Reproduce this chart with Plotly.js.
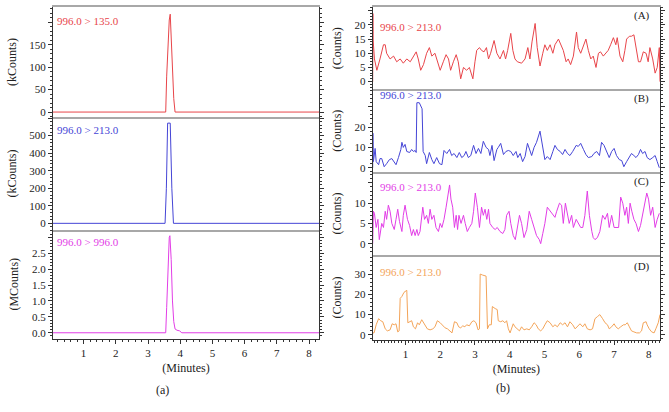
<!DOCTYPE html>
<html><head><meta charset="utf-8">
<script src="https://cdn.plot.ly/plotly-3.0.1.min.js"></script>
<style>html,body{margin:0;padding:0;background:#fff}#chart{width:669px;height:412px}</style>
</head><body><div id="chart"></div>
<script>
// ---- (a) left column: peaks ----
const tA1 = [0.05, 3.55, 3.58, 3.62, 3.66, 3.69, 3.72, 3.76, 3.80, 3.84, 8.31];
const yA1 = [0, 0, 80, 160, 205, 218, 170, 90, 30, 0, 0];           // kCounts 996.0 > 135.0
const tA2 = [0.05, 3.53, 3.57, 3.59, 3.61, 3.69, 3.71, 3.74, 3.79, 8.31];
const yA2 = [0, 0, 200, 380, 571, 571, 380, 200, 0, 0];             // kCounts 996.0 > 213.0
const tA3 = [0.05, 3.55, 3.58, 3.62, 3.66, 3.68, 3.72, 3.76, 3.80, 3.84, 3.90, 3.98, 4.05, 8.31];
const yA3 = [0, 0, 0.8, 2.2, 3.0, 3.05, 2.3, 1.0, 0.35, 0.12, 0.08, 0.06, 0, 0]; // MCounts 996.0 > 996.0

// ---- (b) right column: noise traces ----
const tBA = [0.06,0.065,0.07,0.11,0.18,0.27,0.37,0.42,0.46,0.56,0.66,0.75,0.85,0.94,1.04,1.14,1.23,1.31,1.37,1.44,1.52,1.61,1.69,1.76,1.85,1.92,2.00,2.09,2.17,2.24,2.30,2.38,2.46,2.52,2.59,2.67,2.76,2.84,2.94,3.00,3.05,3.13,3.19,3.26,3.33,3.39,3.45,3.55,3.63,3.72,3.82,3.88,3.94,4.03,4.09,4.15,4.22,4.34,4.44,4.52,4.58,4.64,4.73,4.79,4.87,4.95,5.01,5.08,5.16,5.24,5.30,5.40,5.46,5.54,5.62,5.68,5.75,5.83,5.92,5.97,6.04,6.12,6.19,6.26,6.33,6.40,6.48,6.55,6.61,6.69,6.76,6.83,6.90,6.98,7.05,7.09,7.17,7.25,7.31,7.36,7.44,7.50,7.57,7.63,7.70,7.76,7.84,7.92,7.98,8.03,8.11,8.18,8.24,8.30,8.32];
const yBA = [0,24,15,8,4,8,13,13,10,8,9,7,8,6.5,8,7,9,10.5,8,4,6,10,12,9,10,7,4,7,9.5,8,4,7,9.5,7,1,5,4,5,1,7,11,12,11,10.5,12,8,10,14.5,10,8,11,8,11,17,11,8,7,6.5,8,12,8,14,20.5,12,5.5,10,13,11,13,10,13,15,13,11,7,8,6,9,17.5,12,10,13,15,11,8,9,5,10,10.5,9,10,11,13,15.5,13,15.5,9,7,11,15,16,16,16.5,12,7,7,10.5,10,7,12,8,3,5,12,0];

const tBB = [0.06,0.065,0.08,0.13,0.16,0.23,0.27,0.32,0.39,0.46,0.54,0.61,0.68,0.73,0.80,0.87,0.90,0.94,0.99,1.04,1.12,1.18,1.23,1.28,1.31,1.33,1.40,1.44,1.48,1.51,1.57,1.61,1.69,1.76,1.82,1.90,1.98,2.05,2.11,2.19,2.27,2.33,2.40,2.48,2.55,2.62,2.69,2.74,2.81,2.88,2.96,3.03,3.10,3.17,3.24,3.32,3.39,3.43,3.49,3.55,3.63,3.67,3.74,3.82,3.89,3.96,4.03,4.10,4.18,4.23,4.30,4.37,4.44,4.51,4.58,4.63,4.70,4.77,4.87,4.95,5.01,5.08,5.16,5.24,5.30,5.37,5.45,5.52,5.59,5.66,5.73,5.81,5.91,5.97,6.04,6.12,6.19,6.26,6.36,6.42,6.50,6.58,6.64,6.71,6.79,6.86,6.93,7.00,7.07,7.15,7.22,7.28,7.36,7.44,7.50,7.57,7.63,7.70,7.76,7.82,7.89,7.95,8.03,8.11,8.18,8.24,8.30];
const yBB = [0,17,3,9.5,3,1.5,4.5,4.5,0.5,2,4,4.5,3,1.5,5,9,12.5,10,11.5,8,7.5,9,8,8.5,7.5,32,32,30,29,8,6,2,7.5,4,2,5,2,1.5,8.5,7,9,6,7,5,7.5,5,6,8,5,6,11,7,9.5,7,13,10,9,6,11,3.5,9,10,12,6.5,8,8.5,8,6,8,5,7,3,5.5,12,8,6,10,12.5,18,9,4,5.5,4,8,11,9,8,6.5,9,7,6,8,11,10.5,12,9,6.5,5,5.5,7,8,6,12.5,11,8,5,8,9.5,6,4,3.5,0.5,3,5,7,6,5,6.5,9,7,8,5,4,5,6,3,0];

const tBC = [0.06,0.08,0.11,0.16,0.21,0.25,0.32,0.37,0.42,0.46,0.51,0.56,0.61,0.68,0.73,0.78,0.83,0.90,0.94,0.99,1.06,1.12,1.18,1.23,1.28,1.33,1.37,1.42,1.50,1.55,1.61,1.66,1.71,1.76,1.82,1.88,1.95,2.00,2.05,2.11,2.17,2.21,2.27,2.31,2.36,2.41,2.46,2.50,2.54,2.60,2.67,2.72,2.78,2.84,2.91,2.96,3.01,3.07,3.13,3.19,3.24,3.29,3.34,3.39,3.43,3.51,3.58,3.64,3.72,3.80,3.86,3.91,3.98,4.03,4.10,4.16,4.22,4.28,4.34,4.41,4.49,4.56,4.63,4.70,4.77,4.85,4.89,4.95,5.01,5.08,5.16,5.24,5.30,5.35,5.43,5.49,5.54,5.60,5.66,5.71,5.78,5.83,5.91,5.97,6.04,6.10,6.16,6.23,6.29,6.36,6.40,6.45,6.52,6.59,6.67,6.74,6.81,6.86,6.93,7.00,7.07,7.13,7.19,7.25,7.31,7.36,7.41,7.46,7.51,7.57,7.63,7.70,7.76,7.84,7.90,7.94,7.99,8.05,8.11,8.18,8.24,8.30];
const yBC = [0,8,7.5,4,6,1,5,4,8,6,9.5,8,5,3.5,6,8.5,5.5,3,7,9.5,6,4.5,2,3.5,2,3.5,2,3,9,6,7,5,8.5,6,7,4,3,5,4,6,9,11,14.5,11,9,4,7,3.5,7,5,7,5,3,4,5,8,12.5,9,4,9,7,8.5,6,8.5,5,4,3.5,4,3,2.5,3.5,7,8,5,2,1,4,7,5,1.5,3.5,8,6,4,2,1,0,2.5,5,9,8,7,6.5,8,10,9.5,5,10,7,5,7,4,6,5,4,4,7,13,7,3,1.5,1,1.5,3,7,6,7.5,4,7,4,4,4,11.5,10,7,9,5,10,8,6,5,3,4.5,8,10,12.5,11,7,9,4,6,7.5];

const tBD = [0.06,0.10,0.16,0.23,0.29,0.35,0.42,0.48,0.56,0.62,0.68,0.73,0.78,0.82,0.85,0.90,0.96,1.04,1.07,1.14,1.18,1.23,1.29,1.35,1.40,1.47,1.52,1.57,1.63,1.71,1.79,1.85,1.92,2.00,2.07,2.14,2.21,2.28,2.34,2.41,2.48,2.53,2.59,2.65,2.71,2.76,2.84,2.91,2.97,3.03,3.09,3.13,3.15,3.22,3.29,3.32,3.36,3.41,3.47,3.50,3.58,3.64,3.67,3.74,3.80,3.86,3.91,3.96,4.01,4.06,4.10,4.15,4.22,4.28,4.34,4.41,4.49,4.56,4.63,4.70,4.76,4.82,4.89,4.95,5.01,5.08,5.16,5.24,5.30,5.37,5.45,5.52,5.59,5.66,5.73,5.81,5.88,5.94,6.02,6.10,6.16,6.23,6.31,6.38,6.45,6.52,6.59,6.67,6.74,6.81,6.86,6.93,7.00,7.05,7.12,7.19,7.27,7.32,7.38,7.44,7.50,7.57,7.65,7.73,7.79,7.84,7.92,7.95,8.01,8.08,8.15,8.20,8.27,8.32];
const yBD = [1,1,5,8,7,6.5,3,2,2.5,5.5,5,5.5,1.5,2,18,19,21,22,6,6.5,7,4,3,6,5,7.5,6,5,3,2.5,3,4,7,6,4.5,3.5,3,2,1,6.5,6,4,3.5,4.5,4,5,4.5,6.5,7,6,2.5,3,30,29.5,29,29,3,5,5,14,13,12.5,7,6.5,7,6,7,3,1,3,5.5,4,3,2,4,2.5,3,2.5,4,6,5,3,2,3,5,7,6,4,5,4,6,5,6,4,6.5,5,3,4,5.5,4,5.5,3,2.5,3,8,9,10,8,6,5,3,4,5.5,4,3,4,5,5,6,4,2,1.5,1,1,2,6,6.5,5,3,1.5,1,3,6,10];

const labelsA = ['996.0 > 135.0', '996.0 > 213.0', '996.0 > 996.0'];
const labelsB = ['996.0 > 213.0', '996.0 > 213.0', '996.0 > 213.0', '996.0 > 213.0'];
const panelTags = ['(A)', '(B)', '(C)', '(D)'];
const yTitlesA = ['(kCounts)', '(kCounts)', '(MCounts)'];
const xTitle = '(Minutes)';

const cRed = '#e8454a', cBlue = '#4545d6', cMag = '#e23de6', cOra = '#f3a459';
const FONT = 'Liberation Serif, Times New Roman, serif';

const traces = [
  {x:tA1, y:yA1, xaxis:'x', yaxis:'y', line:{color:cRed}},
  {x:tA2, y:yA2, xaxis:'x2', yaxis:'y2', line:{color:cBlue}},
  {x:tA3, y:yA3, xaxis:'x3', yaxis:'y3', line:{color:cMag}},
  {x:tBA, y:yBA, xaxis:'x4', yaxis:'y4', line:{color:cRed}},
  {x:tBB, y:yBB, xaxis:'x5', yaxis:'y5', line:{color:cBlue}},
  {x:tBC, y:yBC, xaxis:'x6', yaxis:'y6', line:{color:cMag}},
  {x:tBD, y:yBD, xaxis:'x7', yaxis:'y7', line:{color:cOra}}
].map(t => Object.assign(t, {type:'scatter', mode:'lines', hoverinfo:'skip', showlegend:false, line:Object.assign(t.line,{width:1})}));

const xdomL = [53/669, 319/669], xdomR = [372.7/669, 660/669];
const f = px => 1 - px/412;
const ydoms = [[f(117), f(7)], [f(230), f(117)], [f(338.5), f(230)],
               [f(89.3), f(7.3)], [f(172), f(89.3)], [f(255), f(172)], [f(340), f(255)]];

function xax(i, dom, range, kind, minorD) {
  const a = {domain:dom, range:range, anchor:'y'+(i===1?'':i), showgrid:false, zeroline:false,
    showline:true, fixedrange:true,
    tickfont:{family:FONT, size:11, color:'#222'}};
  if (kind !== 'bottom') {
    Object.assign(a, {linecolor:'#a8a8a8', linewidth:2, mirror:(kind === 'top'), ticks:'', showticklabels:false});
  } else {
    Object.assign(a, {linecolor:'#333', linewidth:1, mirror:false, ticks:'outside', ticklen:4, tickcolor:'#333',
      tickmode:'linear', tick0:0, dtick:1,
      minor:{ticks:'outside', ticklen:2, dtick:minorD, tick0:0, tickcolor:'#333'},
      title:{text:xTitle, font:{family:FONT, size:12, color:'#222'}, standoff:5}});
  }
  return a;
}
function yax(i, dom, range, dtick, alias, minorD, title, fmt) {
  const a = {domain:dom, range:range, anchor:'x'+(i===1?'':i), showgrid:false, zeroline:false,
    showline:true, linecolor:'#333', linewidth:1, mirror:'ticks', ticks:'outside', ticklen:4, tickcolor:'#333',
    tickmode:'linear', tick0:0, dtick:dtick, labelalias:alias, fixedrange:true,
    minor:{ticks:'outside', ticklen:2, dtick:minorD, tick0:0, tickcolor:'#333'},
    tickfont:{family:FONT, size:11, color:'#222'}};
  if (fmt) a.tickformat = fmt;
  if (title) a.title = {text:title, font:{family:FONT, size:12, color:'#222'}, standoff:10};
  return a;
}

const layout = {
  width:669, height:412, margin:{l:0, r:0, t:0, b:0}, paper_bgcolor:'#fff', plot_bgcolor:'#fff',
  font:{family:FONT, size:11, color:'#222'},
  xaxis: xax(1, xdomL, [0.05, 8.31], 'top'),
  xaxis2: xax(2, xdomL, [0.05, 8.31], 'mid'),
  xaxis3: xax(3, xdomL, [0.05, 8.31], 'bottom', 0.2),
  xaxis4: xax(4, xdomR, [0.06, 8.32], 'top'),
  xaxis5: xax(5, xdomR, [0.06, 8.32], 'mid'),
  xaxis6: xax(6, xdomR, [0.06, 8.32], 'mid'),
  xaxis7: xax(7, xdomR, [0.06, 8.32], 'bottom', 0.1),
  yaxis: yax(1, ydoms[0], [-11, 234], 50, {'200':' '}, 10, yTitlesA[0]),
  yaxis2: yax(2, ydoms[1], [-38, 606], 100, {'600':' '}, 20, yTitlesA[1]),
  yaxis3: yax(3, ydoms[2], [-0.18, 3.23], 0.5, {'3.0':' '}, 0.1, yTitlesA[2], '.1f'),
  yaxis4: yax(4, ydoms[3], [-2.7, 26.2], 5, {'25':' '}, 1, '(Counts)'),
  yaxis5: yax(5, ydoms[4], [-2.1, 38.6], 10, {'30':' '}, 2, '(Counts)'),
  yaxis6: yax(6, ydoms[5], [-2.8, 17.7], 5, {'15':' '}, 1, '(Counts)'),
  yaxis7: yax(7, ydoms[6], [-2.5, 39.4], 10, {}, 2, '(Counts)'),
  annotations: []
};

const lblY = [0.875, 0.885, 0.889];
const lblCol = [cRed, cBlue, cMag];
labelsA.forEach((t, k) => layout.annotations.push({text:t, xref:(k===0?'x':'x'+(k+1))+' domain', yref:(k===0?'y':'y'+(k+1))+' domain',
  x:0.008, y:lblY[k], xanchor:'left', yanchor:'middle', showarrow:false, font:{family:FONT, size:11, color:lblCol[k]}}));
const lblYB = [0.763, 0.93, 0.816, 0.80];
const lblColB = [cRed, cBlue, cMag, cOra];
const tagY = [0.906, 0.891, 0.883, 0.87];
labelsB.forEach((t, k) => {
  const n = k + 4;
  layout.annotations.push({text:t, xref:'x'+n+' domain', yref:'y'+n+' domain', x:0.017, y:lblYB[k], xanchor:'left', yanchor:'middle',
    showarrow:false, font:{family:FONT, size:11, color:lblColB[k]}});
  layout.annotations.push({text:panelTags[k], xref:'x'+n+' domain', yref:'y'+n+' domain', x:0.936, y:tagY[k], xanchor:'center', yanchor:'middle',
    showarrow:false, font:{family:FONT, size:11, color:'#222'}});
});
layout.annotations.push({text:'(a)', xref:'paper', yref:'paper', x:162/669, y:f(390), xanchor:'center', yanchor:'middle', showarrow:false, font:{family:FONT, size:12, color:'#222'}});
layout.annotations.push({text:'(b)', xref:'paper', yref:'paper', x:503/669, y:f(388), xanchor:'center', yanchor:'middle', showarrow:false, font:{family:FONT, size:12, color:'#222'}});

Plotly.newPlot('chart', traces, layout, {staticPlot:true, displayModeBar:false});
</script>
</body></html>
